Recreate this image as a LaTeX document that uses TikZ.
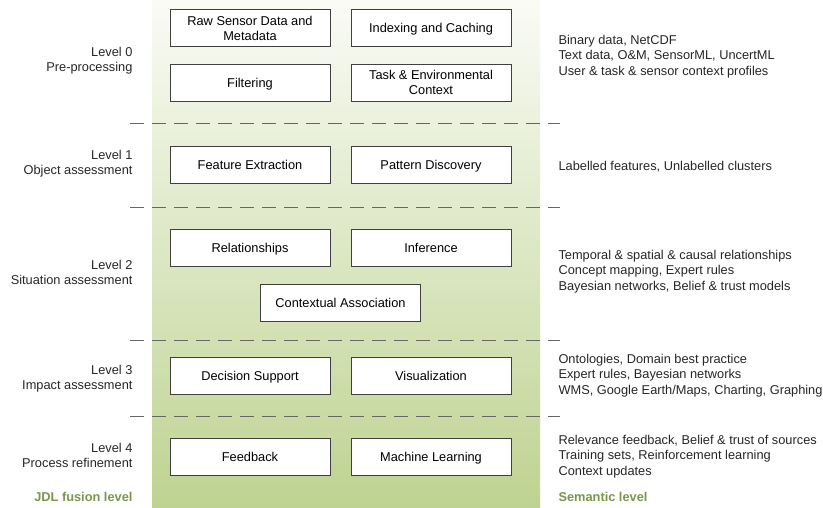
\documentclass[tikz,border=0pt]{standalone}
\usepackage{fontspec}
\setmainfont{Liberation Sans}
\begin{document}
\begin{tikzpicture}[x=1pt,y=-1pt,
  boxbase/.style={draw=black!75,fill=white,line width=0.8pt,minimum width=160pt,minimum height=37pt,font=\fontsize{12.8}{15}\selectfont,inner sep=1pt},
  box/.style={boxbase,text height=9.2pt,text depth=0pt},
  boxtwo/.style={boxbase,align=center},
  lvl/.style={anchor=east,align=right,font=\fontsize{12.8}{15.5}\selectfont,text=black!85},
  sem/.style={anchor=west,align=left,font=\fontsize{12.8}{15.3}\selectfont,text=black!85},
  sep/.style={draw=black!60,line width=1pt,dash pattern=on 14pt off 8pt}]
\definecolor{bandtop}{RGB}{250,251,246}
\definecolor{bandbot}{RGB}{190,211,145}
\definecolor{ttlgreen}{RGB}{122,150,78}
\useasboundingbox (0,0) rectangle (823,507);
\shade[top color=bandtop,bottom color=bandbot] (152,0) rectangle (540,507);
% separators
\foreach \yy/\nm in {123/a,207/b,340/c,416/d}{
  \coordinate (s\nm l) at (130,\yy);
  \coordinate (s\nm r) at (560,\yy);
  \draw[sep] (s\nm l) -- (s\nm r);
}
% boxes
\node[boxtwo] (raw) at (250,28) {Raw Sensor Data and\\Metadata};
\node[box] (idx) at (431,28) {Indexing and Caching};
\node[box] (fil) at (250,82.5) {Filtering};
\node[boxtwo] (task) at (431,82.5) {Task \& Environmental\\Context};
\node[box] (feat) at (250,164.5) {Feature Extraction};
\node[box] (pat) at (431,164.5) {Pattern Discovery};
\node[box] (rel) at (250,248) {Relationships};
\node[box] (inf) at (431,248) {Inference};
\node[box] (ctx) at (340.5,303) {Contextual Association};
\node[box] (dec) at (250,375.5) {Decision Support};
\node[box] (vis) at (431,375.5) {Visualization};
\node[box] (fb) at (250,456.5) {Feedback};
\node[box] (ml) at (431,456.5) {Machine Learning};
% level labels
\node[lvl] (l0) at (136,60.5) {Level 0\\Pre-processing};
\node[lvl] (l1) at (136,163.5) {Level 1\\Object assessment};
\node[lvl] (l2) at (136,272.5) {Level 2\\Situation assessment};
\node[lvl] (l3) at (136,378.5) {Level 3\\Impact assessment};
\node[lvl] (l4) at (136,455.5) {Level 4\\Process refinement};
\node[anchor=east,font=\bfseries\fontsize{12.8}{15}\selectfont,text=ttlgreen] (jdl) at (136,497) {JDL fusion level};
% semantic
\node[sem] (m0) at (555,56.5) {Binary data, NetCDF\\Text data, O\&M, SensorML, UncertML\\User \& task \& sensor context profiles};
\node[sem] (m1) at (555,166.5) {Labelled features, Unlabelled clusters};
\node[sem] (m2) at (555,271.5) {Temporal \& spatial \& causal relationships\\Concept mapping, Expert rules\\Bayesian networks, Belief \& trust models};
\node[sem] (m3) at (555,375.5) {Ontologies, Domain best practice\\Expert rules, Bayesian networks\\WMS, Google Earth/Maps, Charting, Graphing};
\node[sem] (m4) at (555,456.5) {Relevance feedback, Belief \& trust of sources\\Training sets, Reinforcement learning\\Context updates};
\node[anchor=west,font=\bfseries\fontsize{12.8}{15}\selectfont,text=ttlgreen] (semt) at (555,497) {Semantic level};
\end{tikzpicture}
\end{document}
